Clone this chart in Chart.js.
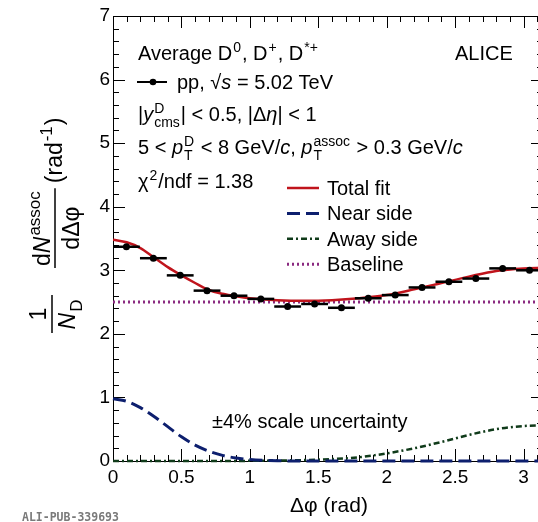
<!DOCTYPE html>
<html>
<head>
<meta charset="utf-8">
<script src="https://cdn.jsdelivr.net/npm/chart.js@4"></script>
<style>
html, body { margin: 0; padding: 0; background: #fff; overflow: hidden; }
#wrap { width: 538px; height: 522px; overflow: hidden; position: relative; }
canvas { display: block; }
</style>
</head>
<body>
<div id="wrap"><canvas id="grafico" width="548" height="522"></canvas></div>
<script>
// pontos medidos (centro do bin em Δφ, rad)
const dphiCentros = [0.098, 0.295, 0.491, 0.687, 0.884, 1.080, 1.276, 1.473,
                     1.669, 1.865, 2.062, 2.258, 2.454, 2.651, 2.847, 3.043];
const rendimento  = [3.37, 3.19, 2.92, 2.68, 2.60, 2.55, 2.43, 2.47,
                     2.41, 2.56, 2.61, 2.73, 2.82, 2.87, 3.03, 3.00];
const meiaLargura = 0.098;   // metade da largura do bin

// curvas do ajuste
const fitX      = [0, 0.1, 0.2, 0.3, 0.4, 0.5, 0.6, 0.7, 0.8, 0.9, 1.0, 1.2, 1.4,
                   1.6, 1.8, 2.0, 2.2, 2.4, 2.6, 2.8, 3.0, 3.1416];
const ajusteTotal = [3.48, 3.44, 3.35, 3.20, 3.05, 2.92, 2.80, 2.69, 2.63, 2.59, 2.56, 2.53, 2.52,
                     2.53, 2.56, 2.61, 2.70, 2.80, 2.90, 2.99, 3.03, 3.04];
const ladoProximo = [0.98, 0.94, 0.84, 0.70, 0.54, 0.38, 0.25, 0.155, 0.088, 0.046, 0.023, 0.004, 0,
                     0, 0, 0, 0, 0, 0, 0, 0, 0];
const ladoOposto  = [0, 0, 0, 0, 0, 0, 0, 0, 0, 0, 0.003, 0.007, 0.015,
                     0.03, 0.06, 0.12, 0.20, 0.30, 0.41, 0.50, 0.55, 0.56];
const linhaBase   = 2.50;

const labelsLegenda = ['Total fit', 'Near side', 'Away side', 'Baseline'];

const FAM = '"Liberation Sans", Arial, sans-serif';
const VERMELHO = '#c0141c';
const AZUL = '#0d1f6e';
const VERDE = '#103b1a';
const ROXO = '#8a2a80';

// escreve texto com sobrescrito/subscrito
function textoRico(ctx, x, y, partes, tam, escala = 0.7) {
    let cx = x;
    ctx.textBaseline = 'alphabetic';
    ctx.textAlign = 'left';
    partes.forEach(p => {
        if (p.t !== undefined) {
            ctx.font = (p.it ? 'italic ' : '') + tam + 'px ' + FAM;
            ctx.fillText(p.t, cx, y);
            cx += ctx.measureText(p.t).width;
        } else {
            const peq = Math.round(tam * escala);
            ctx.font = peq + 'px ' + FAM;
            let w = 0;
            if (p.sup) { ctx.fillText(p.sup, cx + 1, y - tam * 0.42); w = ctx.measureText(p.sup).width; }
            if (p.sub) { ctx.fillText(p.sub, cx + 1, y + tam * 0.32); w = Math.max(w, ctx.measureText(p.sub).width); }
            cx += w + 2;
        }
    });
    return cx - x;
}

function larguraRica(ctx, partes, tam, escala) {
    ctx.save();
    ctx.globalAlpha = 0;
    const w = textoRico(ctx, 0, 0, partes, tam, escala);
    ctx.restore();
    return w;
}

function linha(ctx, x1, y1, x2, y2) {
    ctx.beginPath();
    ctx.moveTo(x1, y1);
    ctx.lineTo(x2, y2);
    ctx.stroke();
}

// moldura estilo ROOT com ticks para dentro
const molduraPlugin = {
    id: 'moldura',
    beforeDatasetsDraw(chart) {
        const {ctx, chartArea: a, scales: {x, y}} = chart;
        ctx.save();
        ctx.strokeStyle = '#000';
        ctx.lineWidth = 1;
        ctx.strokeRect(a.left + 0.5, a.top + 0.5, a.right - a.left, a.bottom - a.top);
        for (let i = 0; i <= 31; i++) {
            const px = Math.round(x.getPixelForValue(i * 0.1)) + 0.5;
            const len = i % 5 === 0 ? 12 : 6;
            linha(ctx, px, a.bottom, px, a.bottom - len);
            linha(ctx, px, a.top, px, a.top + len);
        }
        for (let i = 0; i <= 35; i++) {
            const py = Math.round(y.getPixelForValue(i * 0.2)) + 0.5;
            const len = i % 5 === 0 ? 12 : 6;
            linha(ctx, a.left, py, a.left + len, py);
            linha(ctx, a.right, py, a.right - len, py);
        }
        ctx.restore();
    },
    afterDatasetsDraw(chart) {
        const {ctx, scales: {x, y}} = chart;
        ctx.save();
        ctx.strokeStyle = '#000';
        ctx.lineWidth = 2.5;
        dphiCentros.forEach((c, i) => {
            const py = y.getPixelForValue(rendimento[i]);
            linha(ctx, x.getPixelForValue(c - meiaLargura), py, x.getPixelForValue(c + meiaLargura), py);
        });
        ctx.restore();
    },
    afterDraw(chart) {
        const ctx = chart.ctx;
        ctx.save();
        ctx.fillStyle = '#000';

        // caixa de texto
        textoRico(ctx, 138, 60, [{t: 'Average D'}, {sup: '0'}, {t: ', D'}, {sup: '+'}, {t: ', D'}, {sup: '*+'}], 20);
        ctx.strokeStyle = '#000';
        ctx.lineWidth = 2;
        linha(ctx, 137, 82, 167, 82);
        ctx.beginPath();
        ctx.arc(153, 82, 3.3, 0, Math.PI * 2);
        ctx.fill();
        textoRico(ctx, 177, 89, [{t: 'pp, √'}, {t: 's', it: true}, {t: ' = 5.02 TeV'}], 20);
        textoRico(ctx, 138, 121, [{t: '|'}, {t: 'y', it: true}, {sup: 'D', sub: 'cms'}, {t: '| < 0.5, |Δ'}, {t: 'η', it: true}, {t: '| < 1'}], 20);
        textoRico(ctx, 138, 154, [{t: '5 < '}, {t: 'p', it: true}, {sup: 'D', sub: 'T'}, {t: ' < 8 GeV/'}, {t: 'c', it: true},
            {t: ', '}, {t: 'p', it: true}, {sup: 'assoc', sub: 'T'}, {t: ' > 0.3 GeV/'}, {t: 'c', it: true}], 20);
        textoRico(ctx, 138, 188, [{t: 'χ'}, {sup: '2'}, {t: '/ndf = 1.38'}], 20);
        textoRico(ctx, 455, 60, [{t: 'ALICE'}], 20);

        // legenda das curvas
        const estilos = [
            {cor: VERMELHO, dash: [], lw: 2.5},
            {cor: AZUL, dash: [13, 6], lw: 3},
            {cor: VERDE, dash: [6, 3, 2, 3], lw: 2.5},
            {cor: ROXO, dash: [2, 3], lw: 3}
        ];
        labelsLegenda.forEach((txt, i) => {
            const yb = 195 + i * 25.4;
            ctx.strokeStyle = estilos[i].cor;
            ctx.lineWidth = estilos[i].lw;
            ctx.setLineDash(estilos[i].dash);
            linha(ctx, 287, yb - 7, 319, yb - 7);
            ctx.setLineDash([]);
            textoRico(ctx, 327, yb, [{t: txt}], 20);
        });

        textoRico(ctx, 212, 428, [{t: '±4% scale uncertainty'}], 20);

        // título do eixo x
        ctx.font = '21px ' + FAM;
        ctx.textAlign = 'center';
        ctx.fillText('Δφ (rad)', 329, 512);

        // título do eixo y (rotacionado)
        ctx.save();
        ctx.translate(0, 522);
        ctx.rotate(-Math.PI / 2);
        ctx.lineWidth = 1.5;
        ctx.strokeStyle = '#000';
        const ft = 23, esc = 0.75;
        // 1 / N_D
        const a1 = 208;
        ctx.font = ft + 'px ' + FAM;
        ctx.textAlign = 'center';
        ctx.fillText('1', a1, 46);
        linha(ctx, a1 - 19, 52, a1 + 19, 52);
        const denN = [{t: 'N', it: true}, {sub: 'D'}];
        textoRico(ctx, a1 - larguraRica(ctx, denN, ft, esc) / 2, 75, denN, ft, esc);
        // dN^assoc / dΔφ
        const num2 = [{t: 'd'}, {t: 'N', it: true}, {sup: 'assoc'}];
        const den2 = [{t: 'd'}, {t: 'Δφ'}];
        const w2 = larguraRica(ctx, num2, ft, esc);
        const w3 = larguraRica(ctx, den2, ft, esc);
        const a2 = 256 + w2 / 2;
        textoRico(ctx, a2 - w2 / 2, 50, num2, ft, esc);
        linha(ctx, a2 - w2 / 2 - 2, 55, a2 + w2 / 2 + 2, 55);
        textoRico(ctx, a2 - w3 / 2, 79, den2, ft, esc);
        // (rad^-1)
        textoRico(ctx, a2 + w2 / 2 + 7, 62, [{t: '(rad'}, {sup: '-1'}, {t: ')'}], ft, esc);
        ctx.restore();

        // rótulo da publicação
        ctx.font = 'bold 11.5px "DejaVu Sans Mono", monospace';
        ctx.fillStyle = '#7a7a7a';
        ctx.textAlign = 'left';
        ctx.fillText('ALI-PUB-339693', 22, 521);
        ctx.restore();
    }
};

const pares = (xs, ys) => xs.map((x, i) => ({x, y: ys[i]}));

const grafico = new Chart(document.getElementById('grafico'), {
    type: 'line',
    data: {
        datasets: [
            {
                label: 'pp',
                data: pares(dphiCentros, rendimento),
                showLine: false,
                pointRadius: 3.5,
                pointBackgroundColor: '#000',
                pointBorderColor: '#000',
                pointBorderWidth: 0
            },
            {
                label: labelsLegenda[0],
                data: pares(fitX, ajusteTotal),
                borderColor: VERMELHO,
                borderWidth: 2.5,
                pointRadius: 0,
                cubicInterpolationMode: 'monotone'
            },
            {
                label: labelsLegenda[1],
                data: pares(fitX, ladoProximo),
                borderColor: AZUL,
                borderWidth: 3,
                borderDash: [13, 6],
                pointRadius: 0,
                cubicInterpolationMode: 'monotone',
                clip: 6
            },
            {
                label: labelsLegenda[2],
                data: pares(fitX, ladoOposto),
                borderColor: VERDE,
                borderWidth: 2.5,
                borderDash: [6, 3, 2, 3],
                pointRadius: 0,
                cubicInterpolationMode: 'monotone',
                clip: 6
            },
            {
                label: labelsLegenda[3],
                data: [{x: 0, y: linhaBase}, {x: Math.PI, y: linhaBase}],
                borderColor: ROXO,
                borderWidth: 3,
                borderDash: [2, 3],
                pointRadius: 0
            }
        ]
    },
    options: {
        responsive: false,
        animation: false,
        devicePixelRatio: 1,
        layout: { padding: { top: 16, right: 5, left: 0, bottom: 0 } },
        plugins: { legend: false, tooltip: false },
        scales: {
            x: {
                type: 'linear',
                min: 0,
                max: Math.PI,
                afterFit(s) { s.height = 61; },
                grid: { display: false, drawTicks: false },
                border: { display: false },
                ticks: {
                    stepSize: 0.5,
                    includeBounds: false,
                    autoSkip: false,
                    maxRotation: 0,
                    padding: 5,
                    color: '#000',
                    font: { family: FAM, size: 19 },
                    // só múltiplos de 0.5, sem casas desnecessárias
                    callback: v => Math.abs(v * 2 - Math.round(v * 2)) < 1e-6 ? String(Math.round(v * 2) / 2) : ''
                }
            },
            y: {
                min: 0,
                max: 7,
                afterFit(s) { s.width = 113; },
                grid: { display: false, drawTicks: false },
                border: { display: false },
                ticks: {
                    stepSize: 1,
                    padding: 3,
                    color: '#000',
                    font: { family: FAM, size: 19 }
                }
            }
        }
    },
    plugins: [molduraPlugin]
});
</script>
</body>
</html>
